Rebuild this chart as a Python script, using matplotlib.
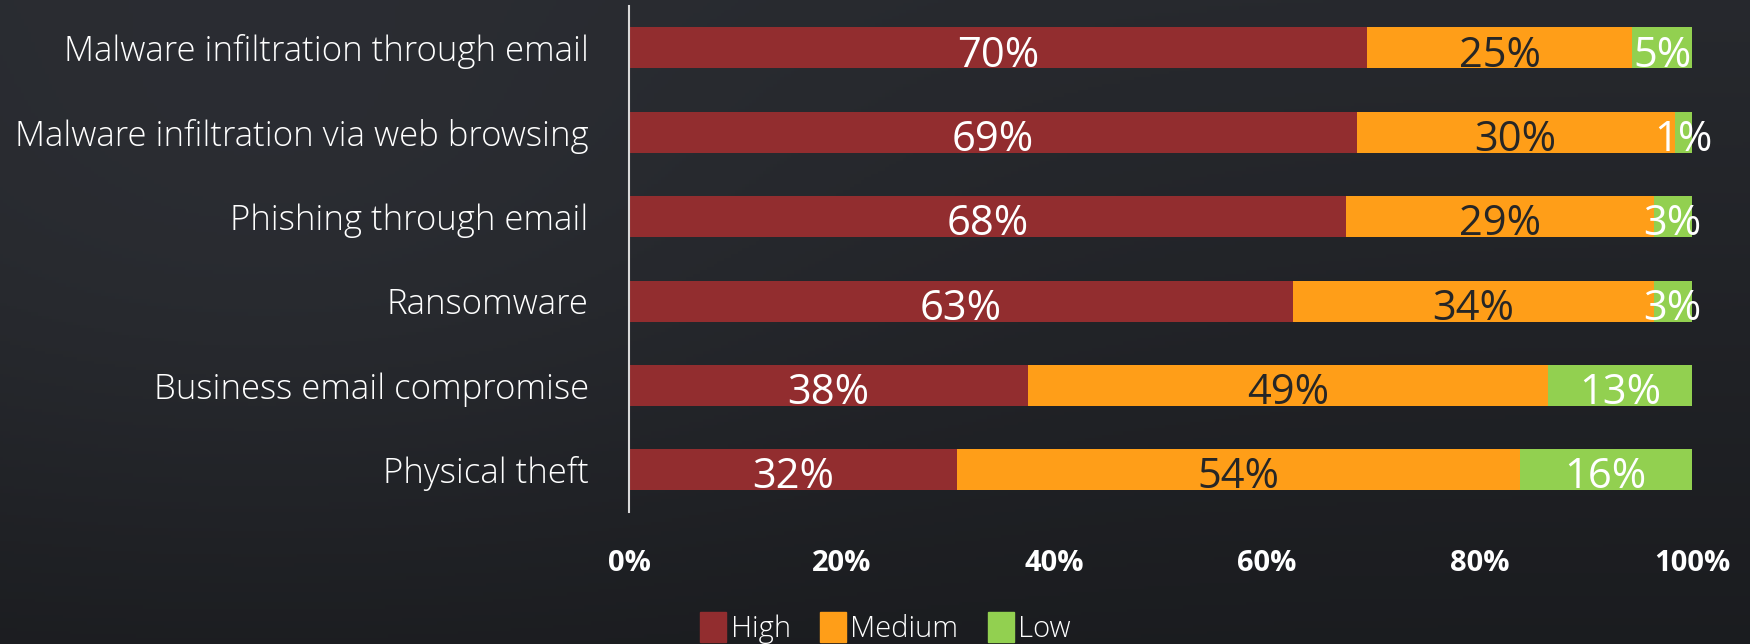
import numpy as np
import matplotlib.pyplot as plt
from matplotlib.patches import Patch

# Data (top row first)
categories = [
    "Malware infiltration through email",
    "Malware infiltration via web browsing",
    "Phishing through email",
    "Ransomware",
    "Business email compromise",
    "Physical theft",
]
# bar widths as drawn in the picture (%)
high = [69.45, 68.45, 67.5, 62.5, 37.5, 30.9]
medium = [24.95, 29.95, 28.9, 33.9, 49.0, 52.9]
low = [5.6, 1.6, 3.6, 3.6, 13.5, 16.2]
# printed labels (%)
high_lbl = [70, 69, 68, 63, 38, 32]
medium_lbl = [25, 30, 29, 34, 49, 54]
low_lbl = [5, 1, 3, 3, 13, 16]
xticks = [0, 20, 40, 60, 80, 100]

c_high = "#922D2F"
c_med = "#FF9E18"
c_low = "#92D050"

plt.rcParams['font.family'] = ['Open Sans', 'DejaVu Sans']

fig = plt.figure(figsize=(17.5, 6.44), dpi=100)

# dark gradient background
bg = fig.add_axes([0, 0, 1, 1], zorder=-10)
yy, xx = np.mgrid[0:1:200j, 0:1:500j]
glow = np.exp(-(((xx - 0.15) / 0.35) ** 2 + ((yy - 0.4) / 0.5) ** 2))
base = 0.16 - 0.05 * yy + 0.03 * glow
img = np.dstack([base * 0.95, base * 1.0, base * 1.12])
bg.imshow(np.clip(img, 0, 1), aspect='auto', extent=[0, 1, 1, 0])
bg.axis('off')

ax = fig.add_axes([0.3594, 0.205, 0.6074, 0.786])
ax.patch.set_alpha(0)
y = np.arange(len(categories))
h = 0.486

b1 = ax.barh(y, high, height=h, color=c_high)
b2 = ax.barh(y, medium, left=high, height=h, color=c_med)
left3 = [a + b for a, b in zip(high, medium)]
b3 = ax.barh(y, low, left=left3, height=h, color=c_low)

for bars, lbls, col in [(b1, high_lbl, "white"), (b2, medium_lbl, "#262626"), (b3, low_lbl, "white")]:
    for bar, v in zip(bars, lbls):
        cx = bar.get_x() + bar.get_width() / 2
        cy = bar.get_y() + bar.get_height() / 2
        ax.text(cx, cy + 0.09, f"{v}%", ha='center', va='center', fontsize=30, color=col)

ax.set_xlim(0, 100)
ax.set_ylim(5.5, -0.5)
ax.set_yticks(y)
ax.set_yticklabels(categories, fontsize=25, color="white", fontweight='light')
ax.set_xticks(xticks)
ax.set_xticklabels([f"{t}%" for t in xticks], fontsize=21, fontweight='bold', color="white")
ax.tick_params(axis='both', length=0)
ax.tick_params(axis='y', pad=29)
ax.tick_params(axis='x', pad=27)
for s in ["top", "right", "bottom"]:
    ax.spines[s].set_visible(False)
ax.spines["left"].set_color("#d9d9d9")
ax.spines["left"].set_linewidth(1.5)

handles = [Patch(color=c_high, label="High"), Patch(color=c_med, label="Medium"), Patch(color=c_low, label="Low")]
leg = fig.legend(handles=handles, loc='center', bbox_to_anchor=(0.506, 0.025), ncol=3, frameon=False,
                 fontsize=21, handlelength=0.9, handleheight=1.2, handletextpad=0.15, columnspacing=1.0,
                 labelcolor="white", prop={'weight': 'light', 'size': 21})

fig.savefig("out.png", dpi=100)
